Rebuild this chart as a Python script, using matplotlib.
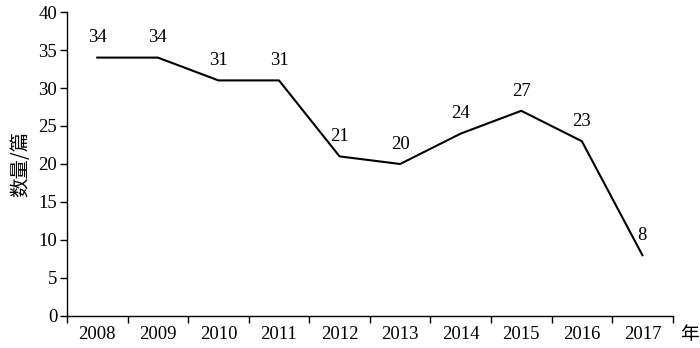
import matplotlib.pyplot as plt
import numpy as np

years = ['2008', '2009', '2010', '2011', '2012', '2013', '2014', '2015', '2016', '2017']
counts = [34, 34, 31, 31, 21, 20, 24, 27, 23, 8]

plt.rcParams['font.family'] = ['Liberation Serif', 'Noto Sans CJK SC']

fig = plt.figure(figsize=(7, 3.48), dpi=100)
ax = fig.add_axes([0.0957, 0.092, 0.8653, 0.8735])

x = np.arange(len(years))
ax.plot(x, counts, color='black', linewidth=1.5)
for xi, v in zip(x, counts):
    ax.annotate(str(v), (xi, v), xytext=(0, 8), textcoords='offset points',
                ha='center', va='bottom', fontsize=13.5)

ax.set_xlim(-0.5, len(years) - 0.5)
ax.set_ylim(0, 40)
ax.set_yticks(range(0, 41, 5))
ax.set_xticks(np.arange(-0.5, len(years), 1.0))
ax.set_xticklabels([])
ax.set_xticks(x, minor=True)
ax.set_xticklabels(years, minor=True)
ax.tick_params(axis='x', which='minor', length=0, pad=7, labelsize=13.5)
ax.tick_params(axis='x', which='major', length=5, width=1, direction='out')
ax.tick_params(axis='y', length=5, width=1, direction='out', labelsize=13.5, pad=2)

for side in ['top', 'right']:
    ax.spines[side].set_visible(False)
for side in ['left', 'bottom']:
    ax.spines[side].set_linewidth(1)

ax.set_ylabel('数量/篇', fontsize=14, family=['Noto Sans CJK SC'], labelpad=5)
ax.text(1.012, -0.06, '年', transform=ax.transAxes, fontsize=13.5,
        family=['Noto Sans CJK SC'], ha='left', va='center')

fig.savefig('out.png', dpi=100)
